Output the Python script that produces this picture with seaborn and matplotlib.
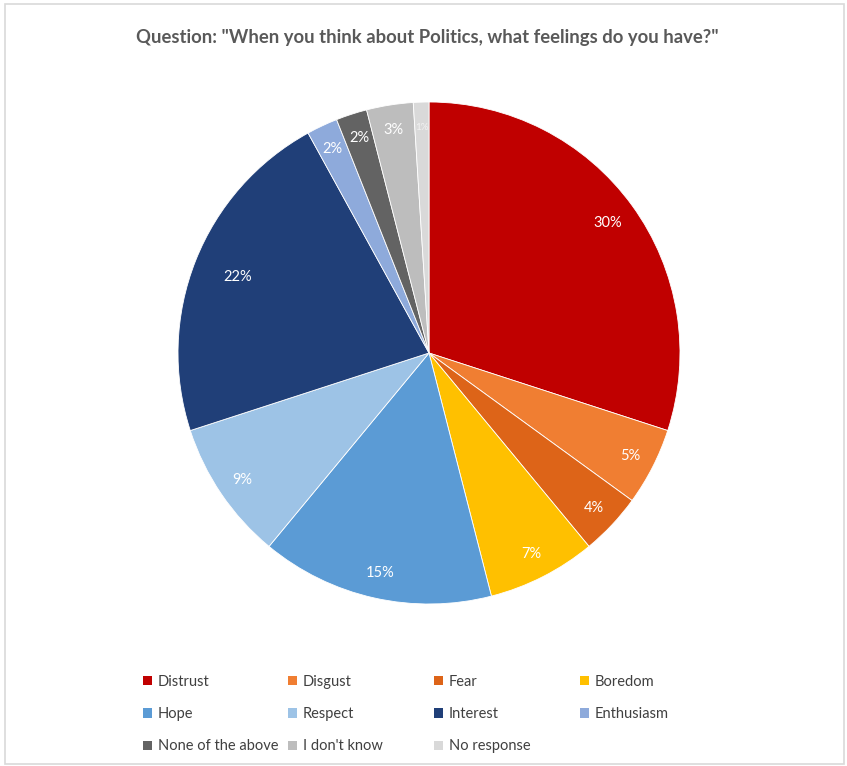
import matplotlib
matplotlib.use("Agg")
import matplotlib.pyplot as plt
from matplotlib.patches import Patch, Rectangle
import seaborn as sns

# Survey answers
categories = ["Distrust", "Disgust", "Fear", "Boredom", "Hope", "Respect",
              "Interest", "Enthusiasm", "None of the above", "I don't know",
              "No response"]
shares = [30, 5, 4, 7, 15, 9, 22, 2, 2, 3, 1]
title_text = 'Question: "When you think about Politics, what feelings do you have?"'

palette = sns.color_palette([
    "#C00000", "#F07E32", "#DD6418", "#FFC000", "#5B9BD5", "#9DC3E6",
    "#203F78", "#8EAADB", "#636363", "#BDBDBD", "#D9D9D9",
])

sns.set_theme(style="white")
plt.rcParams["font.family"] = ["Lato", "DejaVu Sans"]

W, H = 847, 766
fig = plt.figure(figsize=(W / 100, H / 100), dpi=100)
fig.patch.set_facecolor("white")

# pie axes: centre (429, 353), radius 251 px
cx, cy, r = 429, 353, 251
ax = fig.add_axes([(cx - r) / W, (H - cy - r) / H, 2 * r / W, 2 * r / H])

wedges, texts, autotexts = ax.pie(
    shares, colors=palette, startangle=90, counterclock=False,
    radius=1.0, autopct=lambda p: f"{p:.0f}%", pctdistance=0.9,
    wedgeprops=dict(linewidth=0.6, edgecolor="white"),
    textprops=dict(color="white", fontsize=10.5),
)
# the two largest labels sit a little further in
for i, d in ((0, 0.88), (6, 0.82)):
    x, y = autotexts[i].get_position()
    f = d / 0.9
    autotexts[i].set_position((x * f, y * f))
autotexts[-1].set_color("#F2F2F2")
autotexts[-1].set_fontsize(7)

ax.set_xlim(-1, 1)
ax.set_ylim(-1, 1)
ax.set_aspect("equal")
ax.axis("off")

fig.text(427 / W, 1 - 38 / H, title_text, ha="center", va="center",
         fontsize=13.3, fontweight="bold", color="#595959")

# legend laid out in four columns, filled row by row
handles = [Patch(facecolor=c, edgecolor="none") for c in palette]
columns = [[0, 4, 8], [1, 5, 9], [2, 6, 10], [3, 7]]
col_x = [143, 288, 434, 580]
for xs, idx in zip(col_x, columns):
    leg = fig.legend([handles[i] for i in idx], [categories[i] for i in idx],
                     loc="upper left", bbox_to_anchor=(xs / W, 1 - 675 / H),
                     frameon=False, borderpad=0, borderaxespad=0,
                     handlelength=0.6, handleheight=0.6, handletextpad=0.4,
                     labelspacing=1.25, fontsize=10.5)
    for t in leg.get_texts():
        t.set_color("#404040")

# chart border
fig.patches.append(Rectangle((5 / W, 2 / H), 839 / W, 760 / H,
                             transform=fig.transFigure, fill=False,
                             edgecolor="#D9D9D9", linewidth=1.2))

fig.savefig("out.png", dpi=100)
